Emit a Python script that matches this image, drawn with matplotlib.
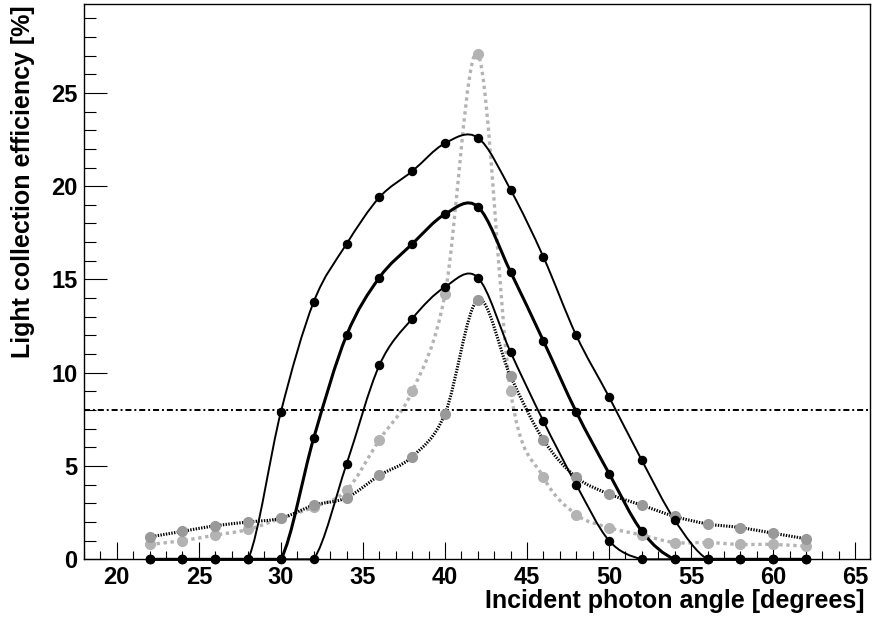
import numpy as np
import matplotlib
matplotlib.use("Agg")
import matplotlib.pyplot as plt
from matplotlib.path import Path
from matplotlib.patches import PathPatch
from matplotlib.ticker import MultipleLocator

plt.rcParams['font.family'] = ['Liberation Sans', 'DejaVu Sans']
plt.rcParams['font.weight'] = 'bold'

# incident angle [degrees]
angle = [22, 24, 26, 28, 30, 32, 34, 36, 38, 40, 42, 44, 46, 48, 50, 52, 54, 56, 58, 60, 62]

# light collection efficiency [%] for the five configurations
eff_outer = [0, 0, 0, 0, 7.9, 13.8, 16.9, 19.4, 20.8, 22.3, 22.6, 19.8, 16.2, 12.0, 8.7, 5.3, 2.1, 0, 0, 0, 0]
eff_mid = [0, 0, 0, 0, 0, 6.5, 12.0, 15.1, 16.9, 18.5, 18.9, 15.4, 11.7, 7.9, 4.6, 1.5, 0, 0, 0, 0, 0]
eff_inner = [0, 0, 0, 0, 0, 0, 5.1, 10.4, 12.9, 14.6, 15.1, 11.1, 7.4, 4.0, 1.0, 0, 0, 0, 0, 0, 0]
eff_dashed = [0.8, 1.0, 1.3, 1.6, 2.2, 2.8, 3.7, 6.4, 9.0, 14.2, 27.1, 9.0, 4.4, 2.4, 1.7, 1.3, 0.9, 0.9, 0.8, 0.8, 0.7]
eff_dotted = [1.2, 1.5, 1.8, 2.0, 2.2, 2.9, 3.3, 4.5, 5.5, 7.8, 13.9, 9.8, 6.4, 4.4, 3.5, 2.9, 2.3, 1.9, 1.7, 1.4, 1.1]

threshold = 8.0


def smooth_path(x, y):
    # Catmull-Rom through the points, drawn as cubic Bezier segments
    # (control points kept >= 0 so the curve never dips under the axis)
    p = np.column_stack([x, y]).astype(float)
    ext = np.vstack([p[0], p, p[-1]])
    verts = [p[0]]
    codes = [Path.MOVETO]
    for i in range(len(p) - 1):
        p0, p1, p2, p3 = ext[i], ext[i + 1], ext[i + 2], ext[i + 3]
        c1 = p1 + (p2 - p0) / 6
        c2 = p2 - (p3 - p1) / 6
        c1[1] = max(c1[1], 0)
        c2[1] = max(c2[1], 0)
        verts += [c1, c2, p2]
        codes += [Path.CURVE4] * 3
    return Path(verts, codes)


fig = plt.figure(figsize=(8.72, 6.19), dpi=100)
ax = fig.add_axes([0.0963, 0.0964, 0.9014, 0.897])

curves = [
    (eff_dashed, '#b3b3b3', 2.4, (1.0, 1.1), '#b3b3b3', 7),
    (eff_dotted, 'black', 2.2, (0.45, 0.45), '#999999', 7),
    (eff_outer, 'black', 1.4, None, 'black', 5.8),
    (eff_mid, 'black', 2.2, None, 'black', 5.8),
    (eff_inner, 'black', 1.4, None, 'black', 5.8),
]
for vals, col, lw, dash, mcol, ms in curves:
    patch = PathPatch(smooth_path(angle, vals), facecolor='none', edgecolor=col,
                      linewidth=lw, capstyle='butt', clip_on=False)
    if dash:
        patch.set_linestyle((0, dash))
    ax.add_patch(patch)
    ax.plot(angle, vals, 'o', color=mcol, ms=ms, mec=mcol, zorder=3, clip_on=False)

ax.axhline(threshold, color='black', lw=1.4, dashes=(3.1, 1.5, 1.0, 1.5))

ax.set_xlim(18, 65.9)
ax.set_ylim(0, 29.76)
ax.xaxis.set_major_locator(MultipleLocator(5))
ax.xaxis.set_minor_locator(MultipleLocator(1))
ax.yaxis.set_major_locator(MultipleLocator(5))
ax.yaxis.set_minor_locator(MultipleLocator(1))
ax.tick_params(axis='x', which='major', direction='in', length=12, width=0.8, labelsize=17, pad=5)
ax.tick_params(axis='x', which='minor', direction='in', length=5.8, width=0.8)
ax.tick_params(axis='y', which='major', direction='in', length=16.5, width=0.8, labelsize=17, pad=4.5)
ax.tick_params(axis='y', which='minor', direction='in', length=8.6, width=0.8)
for s in ax.spines.values():
    s.set_linewidth(1.0)

ax.set_xlabel('Incident photon angle [degrees]', fontsize=18, fontweight='bold',
              ha='right', va='center')
ax.xaxis.set_label_coords(0.993, -0.075)
ax.set_ylabel('Light collection efficiency [%]', fontsize=18, fontweight='bold',
              ha='right', va='center')
ax.yaxis.set_label_coords(-0.0776, 0.998)

fig.savefig('out.png', dpi=100)
